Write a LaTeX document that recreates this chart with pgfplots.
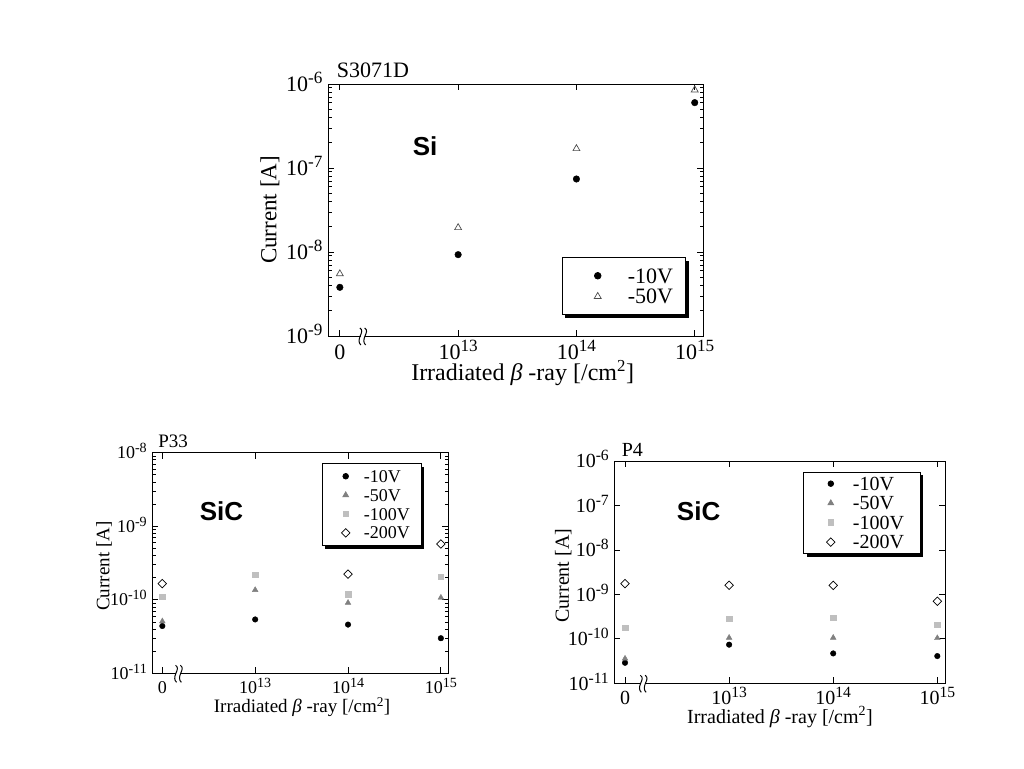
\documentclass[border=0pt]{standalone}
\usepackage{graphicx}
\usepackage{fontspec}
\setmainfont{Liberation Serif}
\newfontfamily\arialf{Liberation Sans}
\usepackage{pgfplots}
\pgfplotsset{compat=1.18}
\usetikzlibrary{shadows}

\newcommand\brk[2]{%
 \fill[white] ([xshift=-2.4pt,yshift=-2pt]axis cs:#1,#2) rectangle ([xshift=2.4pt,yshift=2pt]axis cs:#1,#2);
 \draw[line width=1pt] ([xshift=-3pt,yshift=8pt]axis cs:#1,#2) .. controls +(3pt,-2pt) and +(1.5pt,3.5pt) .. ++(0.3pt,-8pt)
      .. controls +(-1.5pt,-3.5pt) and +(-2.5pt,2pt) .. ++(0.7pt,-9pt);
 \draw[line width=1pt] ([xshift=1.8pt,yshift=8pt]axis cs:#1,#2) .. controls +(3pt,-2pt) and +(1.5pt,3.5pt) .. ++(0.3pt,-8pt)
      .. controls +(-1.5pt,-3.5pt) and +(-2.5pt,2pt) .. ++(0.7pt,-9pt);
}
\newcommand\sups[1]{\raisebox{0.34em}{\scalebox{0.78}{#1}}}
\newcommand\ylab{\pgfmathtruncatemacro\myexp{round(\tick)}10\sups{\myexp}}

\pgfplotsset{
  every axis/.append style={
    scale only axis, clip=false,
    axis line style={line width=1pt},
    tick align=inside,
    major tick length=6pt, minor tick length=3.5pt,
    tick style={black, line width=0.8pt},
    xtick={0,1,2,3},
    xticklabels={0,10\sups{13},10\sups{14},10\sups{15}},
    xlabel={Irradiated \textit{β} -ray [/cm\textsuperscript{2}]},
    ylabel={Current [A]},
    legend cell align=left,
  },
  m10/.style={only marks, mark=*, mark size=#1, black},
  m50/.style={only marks, mark=triangle*, mark size=#1, draw=gray, fill=gray},
  m100/.style={only marks, mark=square*, mark size=#1, draw=black!25, fill=black!25},
  m200/.style={only marks, mark=square, mark size=#1, black, mark options={rotate=45, line width=0.7pt}},
}

\begin{document}
\begin{tikzpicture}
\path[use as bounding box] (0,0) rectangle (1024pt,768pt);

% ---------------- Si (S3071D) ----------------
\begin{axis}[ymode=log, log basis y=10,
  yticklabel={\ylab},
  at={(328pt,432pt)}, anchor=south west,
  width=375pt, height=252pt,
  xmin=-0.1, xmax=3.07, ymin=1e-9, ymax=1e-6,
  tick label style={font=\fontsize{22}{22}\selectfont},
  xlabel style={font=\fontsize{24}{24}\selectfont, at={(axis description cs:0.519,-0.147)}, anchor=center},
  ylabel style={font=\fontsize{23}{23}\selectfont, at={(axis description cs:-0.155,0.5)}, anchor=center},
  xticklabel style={anchor=base, yshift=-23pt},
  yticklabel style={anchor=base east, yshift=-7.3pt, xshift=-2pt},
  legend style={font=\fontsize{22}{22}\selectfont, draw=black, line width=0.8pt, fill=white,
     drop shadow={shadow xshift=3pt, shadow yshift=-3pt, opacity=1, fill=black},
     at={(axis description cs:0.623,0.3123)}, anchor=north west, row sep=0pt, column sep=0pt,
     inner xsep=12.6pt, inner ysep=7.7pt,
     nodes={inner sep=0pt, text height=17.65pt, text depth=3.05pt}},
  legend image code/.code={\path (-22.7pt,0pt) (29.7pt,0pt); \draw[#1] plot coordinates {(0pt,0pt)};},
]
\addplot[m10=3.3pt] coordinates {(0,3.8e-9) (1,9.3e-9) (2,7.4e-8) (3,6.0e-7)};
\addlegendentry{-10V}
\addplot[only marks, mark=triangle, mark size=4pt, black!70, mark options={line width=0.7pt}] coordinates {(0,5.5e-9) (1,1.95e-8) (2,1.7e-7) (3,8.5e-7)};
\addlegendentry{-50V}
\node[font=\arialf\bfseries\fontsize{26}{26}\selectfont] at (axis description cs:0.259,0.754) {Si};
\node[font=\fontsize{22}{22}\selectfont, anchor=west, inner sep=0pt] at (axis description cs:0.023,1.053) {S3071D};
\brk{0.195}{1e-9}
\end{axis}

% ---------------- SiC (P33) ----------------
\begin{axis}[ymode=log, log basis y=10,
  yticklabel={\ylab},
  at={(152.3pt,94.7pt)}, anchor=south west,
  width=296pt, height=220.6pt,
  xmin=-0.108, xmax=3.08, ymin=1e-11, ymax=1e-8,
  tick label style={font=\fontsize{18}{18}\selectfont},
  label style={font=\fontsize{19}{19}\selectfont},
  xticklabel style={anchor=base, yshift=-20.5pt},
  yticklabel style={anchor=base east, yshift=-6pt, xshift=-2pt},
  xlabel style={at={(axis description cs:0.506,-0.153)}, anchor=center},
  ylabel style={at={(axis description cs:-0.163,0.486)}, anchor=center},
  legend style={font=\fontsize{18}{18}\selectfont, draw=black, line width=0.8pt, fill=white,
     drop shadow={shadow xshift=3pt, shadow yshift=-3pt, opacity=1, fill=black},
     at={(axis description cs:0.572,0.952)}, anchor=north west, row sep=0pt, column sep=0pt,
     inner xsep=11.6pt, inner ysep=3.1pt,
     nodes={inner sep=0pt, text height=15.45pt, text depth=3.45pt}},
  legend image code/.code={\path (-11.7pt,0pt) (17.7pt,0pt); \draw[#1] plot coordinates {(0pt,0pt)};},
]
\addplot[m10=2.8pt] coordinates {(0,4.4e-11) (1,5.4e-11) (2,4.6e-11) (3,3.0e-11)};
\addlegendentry{-10V}
\addplot[m50=3.3pt] coordinates {(0,5.1e-11) (1,1.36e-10) (2,9.1e-11) (3,1.07e-10)};
\addlegendentry{-50V}
\addplot[m100=2.8pt] coordinates {(0,1.1e-10) (1,2.2e-10) (2,1.2e-10) (3,2.07e-10)};
\addlegendentry{-100V}
\addplot[m200=3pt] coordinates {(0,1.66e-10) (2,2.23e-10) (3,5.75e-10)};
\addlegendentry{-200V}
\node[font=\arialf\bfseries\fontsize{26}{26}\selectfont] at (axis description cs:0.234,0.737) {SiC};
\node[font=\fontsize{19}{19}\selectfont, anchor=west, inner sep=0pt] at (axis description cs:0.02,1.05) {P33};
\brk{0.175}{1e-11}
\end{axis}

% ---------------- SiC (P4) ----------------
\begin{axis}[ymode=log, log basis y=10,
  yticklabel={\ylab},
  at={(614.3pt,84.7pt)}, anchor=south west,
  width=330.7pt, height=222.3pt,
  xmin=-0.103, xmax=3.074, ymin=1e-11, ymax=1e-6,
  yminorticks=false,
  tick label style={font=\fontsize{20}{20}\selectfont},
  label style={font=\fontsize{20}{20}\selectfont},
  xticklabel style={anchor=base, yshift=-21pt},
  yticklabel style={anchor=base east, yshift=-6.7pt, xshift=-2pt},
  xlabel style={at={(axis description cs:0.501,-0.152)}, anchor=center},
  ylabel style={at={(axis description cs:-0.154,0.484)}, anchor=center},
  legend style={font=\fontsize{20}{20}\selectfont, draw=black, line width=0.8pt, fill=white,
     drop shadow={shadow xshift=3pt, shadow yshift=-3pt, opacity=1, fill=black},
     at={(axis description cs:0.5715,0.952)}, anchor=north west, row sep=0pt, column sep=0pt,
     inner xsep=16pt, inner ysep=1.85pt,
     nodes={inner sep=0pt, text height=16.45pt, text depth=3.05pt}},
  legend image code/.code={\path (-10.7pt,0pt) (21.7pt,0pt); \draw[#1] plot coordinates {(0pt,0pt)};},
]
\addplot[m10=2.8pt] coordinates {(0,2.9e-11) (1,7.4e-11) (2,4.7e-11) (3,4.1e-11)};
\addlegendentry{-10V}
\addplot[m50=3.3pt] coordinates {(0,3.6e-11) (1,1.06e-10) (2,1.06e-10) (3,1.04e-10)};
\addlegendentry{-50V}
\addplot[m100=2.8pt] coordinates {(0,1.78e-10) (1,2.85e-10) (2,3.0e-10) (3,2.1e-10)};
\addlegendentry{-100V}
\addplot[m200=3pt] coordinates {(0,1.74e-9) (1,1.6e-9) (2,1.6e-9) (3,7.0e-10)};
\addlegendentry{-200V}
\node[font=\arialf\bfseries\fontsize{26}{26}\selectfont] at (axis description cs:0.255,0.775) {SiC};
\node[font=\fontsize{20}{20}\selectfont, anchor=west, inner sep=0pt] at (axis description cs:0.022,1.049) {P4};
\brk{0.176}{1e-11}
\end{axis}
\end{tikzpicture}
\end{document}
